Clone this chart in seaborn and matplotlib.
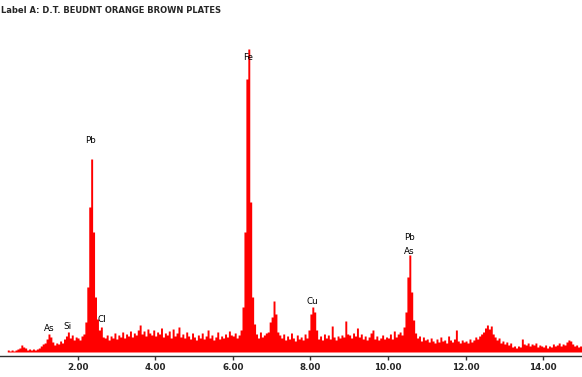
"""
EDS spectrum of sample A (D.T. Beudnt orange brown plates), redrawn
from channel heights read off the original printout.
"""

import numpy as np
import pandas as pd
import matplotlib
matplotlib.use('Agg')
import matplotlib.pyplot as plt
import seaborn as sns

# channel width 0.05 keV, 0 - 15 keV, one row per keV
channel_width = 0.05
counts = [
    0, 0, 0, 0, 2, 1, 2, 1, 2, 3, 4, 7, 5, 4, 2, 3, 2, 3, 2, 3,                   # 0 keV
    4, 6, 8, 9, 13, 18, 15, 10, 7, 9, 8, 11, 9, 13, 16, 20, 14, 17, 12, 15,       # 1
    14, 12, 16, 18, 30, 65, 145, 193, 120, 55, 33, 22, 25, 15, 14, 17, 12, 16, 14, 19,  # 2
    13, 17, 15, 20, 14, 18, 16, 21, 15, 19, 17, 22, 27, 18, 21, 16, 23, 19, 17, 22,     # 3
    16, 20, 18, 24, 15, 19, 17, 21, 14, 23, 16, 19, 25, 15, 18, 14, 20, 16, 13, 19,     # 4
    15, 12, 17, 14, 19, 13, 16, 22, 14, 17, 12, 15, 20, 13, 16, 14, 18, 15, 21, 17,     # 5
    16, 19, 14, 17, 22, 45, 120, 273, 303, 150, 55, 28, 18, 14, 20, 15, 17, 19, 20, 30,  # 6
    35, 51, 38, 20, 17, 14, 18, 12, 16, 13, 19, 14, 11, 17, 13, 15, 12, 18, 14, 22,     # 7
    38, 45, 40, 22, 13, 16, 12, 18, 14, 17, 13, 26, 15, 12, 16, 14, 17, 15, 31, 18,     # 8
    17, 14, 19, 16, 24, 15, 18, 13, 16, 12, 15, 19, 22, 13, 16, 12, 14, 17, 13, 15,     # 9
    14, 18, 13, 21, 15, 18, 20, 17, 25, 40, 75, 97, 60, 32, 19, 14, 16, 11, 15, 12,     # 10
    13, 10, 14, 11, 9, 13, 10, 15, 11, 12, 9, 16, 12, 10, 13, 22, 11, 9, 12, 10,        # 11
    11, 9, 13, 10, 12, 15, 13, 16, 18, 20, 24, 27, 23, 26, 18, 15, 12, 14, 9, 11,       # 12
    8, 10, 7, 9, 5, 6, 4, 6, 5, 13, 8, 7, 9, 6, 8, 7, 9, 5, 7, 6,                       # 13
    5, 7, 4, 6, 5, 8, 6, 7, 9, 6, 8, 7, 10, 12, 11, 8, 6, 7, 5, 6,                      # 14
]

# element markers: name, line energy (keV), label height (counts)
elements = ['As', 'Si', 'Pb', 'Cl', 'Fe', 'Cu', 'Pb', 'As']
element_kev = [1.28, 1.74, 2.34, 2.62, 6.40, 8.04, 10.55, 10.55]
label_heights = [24, 26, 212, 33, 295, 51, 115, 101]

title = 'Label A: D.T. BEUDNT ORANGE BROWN PLATES'
tick_kev = [2, 4, 6, 8, 10, 12, 14]

n_chan = len(counts)
spec = pd.DataFrame({'kev': (np.arange(n_chan) + 0.5) * channel_width,
                     'counts': counts})

sns.set_style('white')
plt.rcParams['font.family'] = ['DejaVu Sans']

W, H = 582, 377
fig = plt.figure(figsize=(W / 100, H / 100), dpi=100)
ax = fig.add_axes([0, (H - 355.5) / H, 1, 335 / H])

sns.histplot(data=spec, x='kev', weights='counts', binwidth=channel_width,
             binrange=(0, n_chan * channel_width), element='step',
             fill=True, color='#ff0000', alpha=1, linewidth=0, ax=ax)

ax.set_xlim(0, 15)
ax.set_ylim(-3, 332)

for sp in ['top', 'left', 'right']:
    ax.spines[sp].set_visible(False)
ax.spines['bottom'].set_color('#303030')
ax.spines['bottom'].set_linewidth(1)

ax.set_xticks(tick_kev)
ax.set_xticklabels([f'{t:.2f}' for t in tick_kev], fontsize=6.3,
                   fontweight='bold')
ax.tick_params(axis='x', direction='out', length=3, width=1,
               color='#303030', pad=2.5, bottom=True)
ax.set_yticks([])
ax.set_xlabel('')
ax.set_ylabel('')

for name, kev, h in zip(elements, element_kev, label_heights):
    ax.text(kev, h, name, ha='center', va='center', fontsize=6.3,
            color='black')

fig.text(1 / W, 1 - 10.5 / H, title, ha='left', va='center',
         fontsize=6.0, fontweight='bold')

plt.savefig('out.png', dpi=100)
